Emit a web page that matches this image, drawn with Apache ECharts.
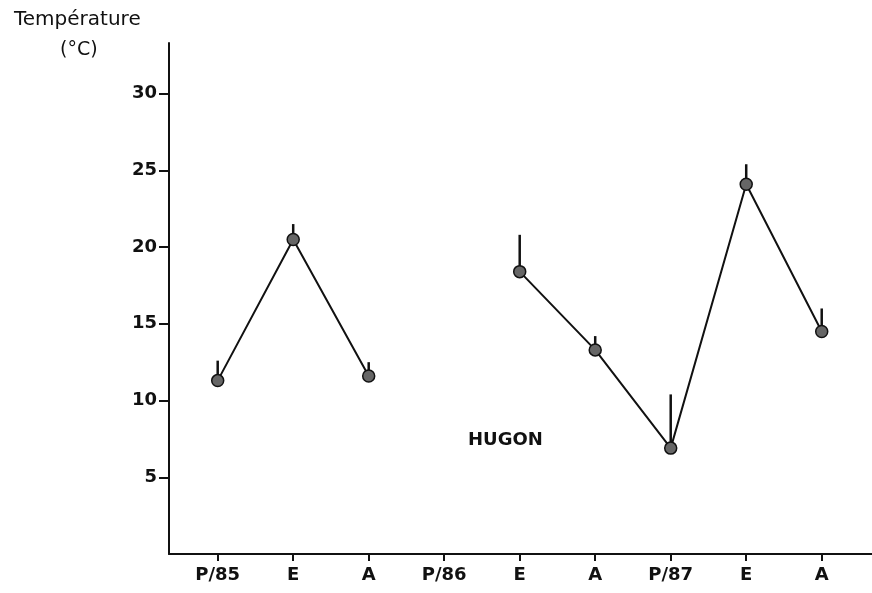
<!DOCTYPE html>
<html>
<head>
<meta charset="utf-8">
<script src="https://cdn.jsdelivr.net/npm/echarts@6/dist/echarts.min.js"></script>
<style>
  html, body { margin: 0; padding: 0; background: #fff; }
  #chart { width: 872px; height: 593px; }
</style>
</head>
<body>
<div id="chart"></div>
<script>
var categories = ["P/85", "E", "A", "P/86", "E", "A", "P/87", "E", "A"];
var temps = [11.3, 20.5, 11.6, null, 18.4, 13.3, 6.9, 24.1, 14.5];
var tempTop = [12.6, 21.5, 12.5, null, 20.8, 14.2, 10.4, 25.4, 16.0];
var yTicks = [5, 10, 15, 20, 25, 30];
var xTicks = [0, 1, 2, 3, 4, 5, 6, 7, 8];

var myChart = echarts.init(document.getElementById("chart"));

var lineData = temps.map(function (v, i) {
  return [i, v == null ? "-" : v];
});
var errData = [];
temps.forEach(function (v, i) {
  if (v != null) errData.push([i, v, tempTop[i]]);
});

var option = {
  backgroundColor: "#fff",
  animation: false,
  grid: { left: 169, right: 0, top: 43, bottom: 39 },
  xAxis: {
    type: "value",
    min: -0.645,
    max: 8.666,
    splitLine: { show: false },
    axisLine: { onZero: false, lineStyle: { color: "#111", width: 2 } },
    axisTick: { customValues: xTicks, length: 7, lineStyle: { color: "#111", width: 2 } },
    axisLabel: {
      customValues: xTicks,
      margin: 12,
      color: "#111",
      fontFamily: "DejaVu Sans",
      fontWeight: "bold",
      fontSize: 18,
      formatter: function (v) {
        return categories[Math.round(v)];
      }
    }
  },
  yAxis: {
    type: "value",
    min: 0,
    max: 33.3,
    splitLine: { show: false },
    axisLine: { onZero: false, lineStyle: { color: "#111", width: 2 } },
    axisTick: { customValues: yTicks, length: 10, lineStyle: { color: "#111", width: 2 } },
    axisLabel: {
      customValues: yTicks,
      margin: 12,
      color: "#111",
      fontFamily: "DejaVu Sans",
      fontWeight: "bold",
      fontSize: 18,
      padding: [0, 0, 6, 0]
    }
  },
  graphic: [
    {
      type: "text", left: 14, top: 10,
      style: { text: "Température", fill: "#111", font: "20px 'DejaVu Sans'" }
    },
    {
      type: "text", left: 60, top: 41,
      style: { text: "(°C)", fill: "#111", font: "19px 'DejaVu Sans'" }
    },
    {
      type: "text", left: 468, top: 431,
      style: { text: "HUGON", fill: "#111", font: "bold 18px 'DejaVu Sans'" }
    }
  ],
  series: [
    {
      type: "custom",
      z: 1,
      data: errData,
      renderItem: function (params, api) {
        var p0 = api.coord([api.value(0), api.value(1)]);
        var p1 = api.coord([api.value(0), api.value(2)]);
        return {
          type: "line",
          shape: { x1: p0[0], y1: p0[1], x2: p1[0], y2: p1[1] },
          style: { stroke: "#111", lineWidth: 2.5 }
        };
      }
    },
    {
      type: "line",
      z: 2,
      data: lineData,
      connectNulls: false,
      symbol: "circle",
      symbolSize: 12,
      lineStyle: { color: "#111", width: 2 },
      itemStyle: { color: "#666", borderColor: "#111", borderWidth: 1.5 }
    }
  ]
};

myChart.setOption(option);
</script>
</body>
</html>
